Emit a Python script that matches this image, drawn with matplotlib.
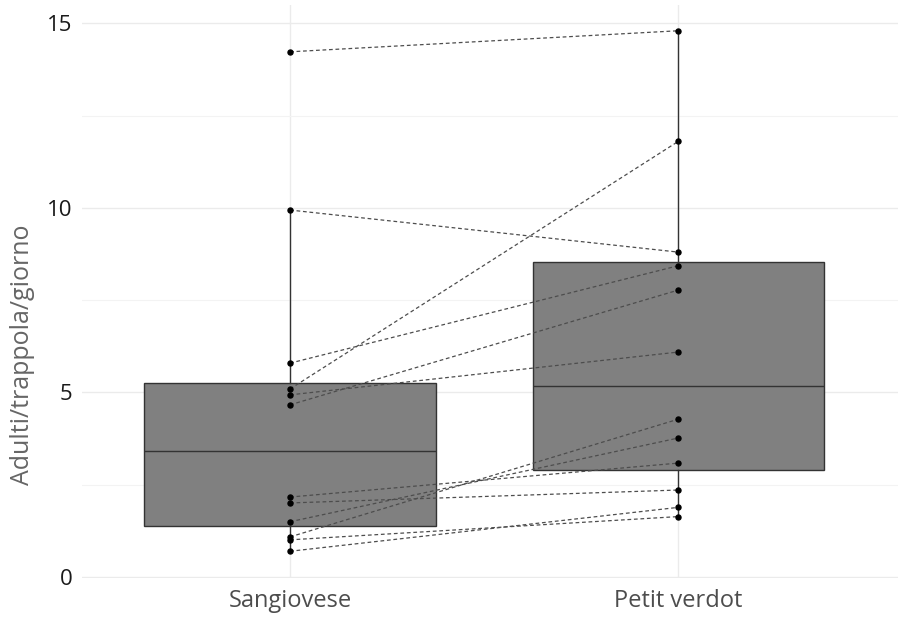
import numpy as np
import matplotlib
matplotlib.use("Agg")
from matplotlib import pyplot as plt

groups = ["Sangiovese", "Petit verdot"]

# paired values (same trap, two varieties)
sangiovese = [14.23, 9.94, 5.79, 5.09, 4.93, 4.66, 2.16, 2.00, 1.49, 1.08, 1.00, 0.69]
petit_verdot = [14.80, 8.80, 8.43, 11.80, 6.09, 7.77, 3.08, 2.35, 3.76, 4.27, 1.63, 1.88]

yticks = [0, 5, 10, 15]
ylabel = "Adulti/trappola/giorno"

plt.rcParams['font.family'] = ['Open Sans', 'DejaVu Sans']

fig = plt.figure(figsize=(9.01, 6.18), dpi=100)
ax = fig.add_axes([0.091, 0.065, 0.906, 0.927])

pos = np.arange(1, len(groups) + 1)

bp = ax.boxplot([sangiovese, petit_verdot], positions=pos, widths=0.75,
                whis=1.5, showfliers=False, patch_artist=True,
                medianprops=dict(color='#333333', lw=1),
                boxprops=dict(facecolor='#808080', edgecolor='#333333', lw=1),
                whiskerprops=dict(color='#333333', lw=1),
                capprops=dict(lw=0), zorder=2)

for a, b in zip(sangiovese, petit_verdot):
    ax.plot(pos, [a, b], color='#4d4d4d', lw=0.9, ls=(0, (3, 2.2)), zorder=3)
ax.plot(np.full(len(sangiovese), pos[0]), sangiovese, 'o', color='black', ms=3.6, zorder=4)
ax.plot(np.full(len(petit_verdot), pos[1]), petit_verdot, 'o', color='black', ms=3.6, zorder=4)

ax.set_xlim(0.464, 2.567)
ax.set_ylim(-0.03, 15.5)
ax.set_yticks(yticks)
ax.set_yticks([2.5, 7.5, 12.5], minor=True)
ax.set_xticks(pos)
ax.set_xticklabels(groups, fontsize=17, color='#4d4d4d')
ax.tick_params(axis='y', labelsize=16, labelcolor='#1a1a1a', length=0, pad=7)
ax.tick_params(axis='y', which='minor', length=0)
ax.tick_params(axis='x', length=0, pad=8)
ax.set_ylabel(ylabel, fontsize=18, color='#666666')
ax.yaxis.set_label_coords(-0.058, 0.389)

ax.grid(True, which='major', color='#ebebeb', lw=1, zorder=0)
ax.grid(True, which='minor', axis='y', color='#f3f3f3', lw=0.8, zorder=0)
ax.set_axisbelow(True)
for s in ax.spines.values():
    s.set_visible(False)

fig.savefig("out.png", dpi=100)
